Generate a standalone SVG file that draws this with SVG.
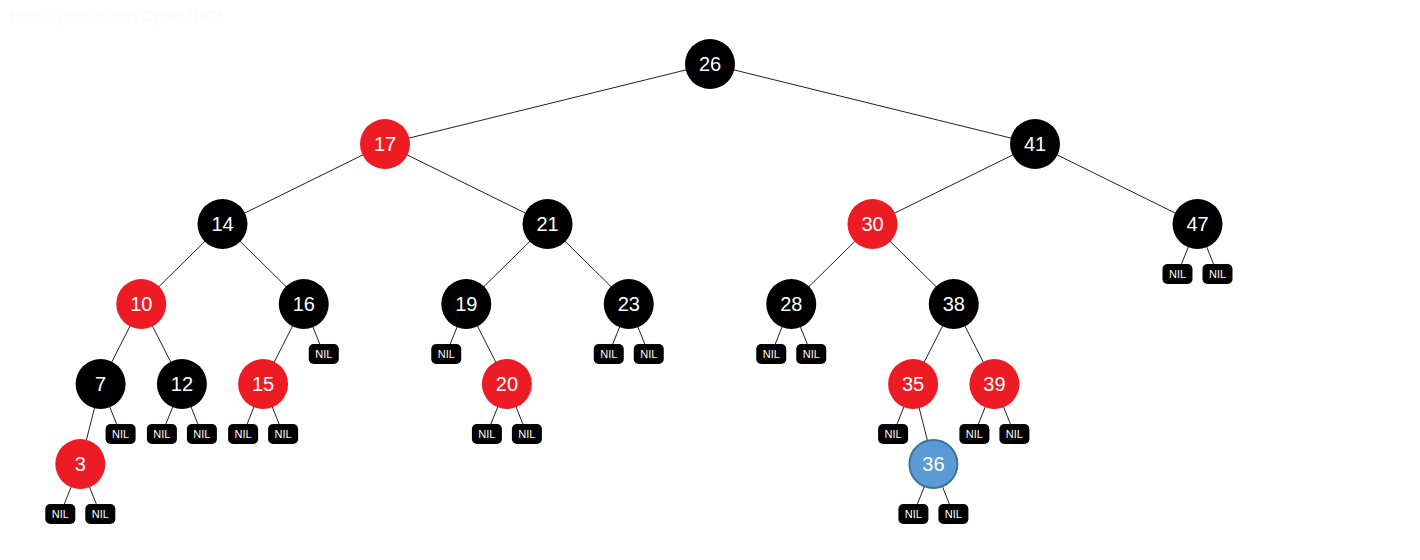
<svg xmlns="http://www.w3.org/2000/svg" width="1420" height="560" viewBox="0 0 1420 560">
<style>
.e{stroke:#222;stroke-width:1;fill:none}
.b{fill:#000}
.r{fill:#ed1c24}
.u{fill:#5b9bd5;stroke:#41719c;stroke-width:2}
.t{font-family:"Liberation Sans",Arial,sans-serif;font-size:20px;fill:#fff;text-anchor:middle;dominant-baseline:central}
.n{fill:#000}
.nt{font-family:"Liberation Sans",Arial,sans-serif;font-size:11px;fill:#fff;text-anchor:middle;dominant-baseline:central}
.w{font-family:"Liberation Sans",Arial,sans-serif;font-size:16px;fill:#fbfbfb}
</style>
<defs>
<g id="nil"><rect class="n" x="-15" y="-10" width="30" height="20" rx="5"/><text class="nt" x="0" y="0">NIL</text></g>
</defs>
<rect width="1420" height="560" fill="#fff"/>
<text class="w" x="10" y="22">https://github.com/CyberZHG/</text>
<g id="edges">
<line class="e" x1="710" y1="64" x2="385" y2="144"/>
<line class="e" x1="710" y1="64" x2="1035" y2="144"/>
<line class="e" x1="385" y1="144" x2="222.5" y2="224"/>
<line class="e" x1="385" y1="144" x2="547.5" y2="224"/>
<line class="e" x1="1035" y1="144" x2="872.5" y2="224"/>
<line class="e" x1="1035" y1="144" x2="1197.5" y2="224"/>
<line class="e" x1="222.5" y1="224" x2="141.25" y2="304"/>
<line class="e" x1="222.5" y1="224" x2="303.75" y2="304"/>
<line class="e" x1="547.5" y1="224" x2="466.25" y2="304"/>
<line class="e" x1="547.5" y1="224" x2="628.75" y2="304"/>
<line class="e" x1="872.5" y1="224" x2="791.25" y2="304"/>
<line class="e" x1="872.5" y1="224" x2="953.75" y2="304"/>
<line class="e" x1="1197.5" y1="224" x2="1177.5" y2="274"/>
<line class="e" x1="1197.5" y1="224" x2="1217.5" y2="274"/>
<line class="e" x1="141.25" y1="304" x2="100.6" y2="384"/>
<line class="e" x1="141.25" y1="304" x2="181.9" y2="384"/>
<line class="e" x1="303.75" y1="304" x2="263.1" y2="384"/>
<line class="e" x1="303.75" y1="304" x2="323.75" y2="354"/>
<line class="e" x1="466.25" y1="304" x2="446.25" y2="354"/>
<line class="e" x1="466.25" y1="304" x2="506.9" y2="384"/>
<line class="e" x1="628.75" y1="304" x2="608.75" y2="354"/>
<line class="e" x1="628.75" y1="304" x2="648.75" y2="354"/>
<line class="e" x1="791.25" y1="304" x2="771.25" y2="354"/>
<line class="e" x1="791.25" y1="304" x2="811.25" y2="354"/>
<line class="e" x1="953.75" y1="304" x2="913.1" y2="384"/>
<line class="e" x1="953.75" y1="304" x2="994.4" y2="384"/>
<line class="e" x1="100.6" y1="384" x2="80.3" y2="464"/>
<line class="e" x1="100.6" y1="384" x2="120.6" y2="434"/>
<line class="e" x1="181.9" y1="384" x2="161.9" y2="434"/>
<line class="e" x1="181.9" y1="384" x2="201.9" y2="434"/>
<line class="e" x1="263.1" y1="384" x2="243.1" y2="434"/>
<line class="e" x1="263.1" y1="384" x2="283.1" y2="434"/>
<line class="e" x1="506.9" y1="384" x2="486.9" y2="434"/>
<line class="e" x1="506.9" y1="384" x2="526.9" y2="434"/>
<line class="e" x1="913.1" y1="384" x2="893.1" y2="434"/>
<line class="e" x1="913.1" y1="384" x2="933.4" y2="464"/>
<line class="e" x1="994.4" y1="384" x2="974.4" y2="434"/>
<line class="e" x1="994.4" y1="384" x2="1014.4" y2="434"/>
<line class="e" x1="80.3" y1="464" x2="60.3" y2="514"/>
<line class="e" x1="80.3" y1="464" x2="100.3" y2="514"/>
<line class="e" x1="933.4" y1="464" x2="913.4" y2="514"/>
<line class="e" x1="933.4" y1="464" x2="953.4" y2="514"/>
</g>
<g id="n26"><circle class="b" cx="710" cy="64" r="25"/><text class="t" x="710" y="64">26</text></g>
<g id="n17"><circle class="r" cx="385" cy="144" r="25"/><text class="t" x="385" y="144">17</text></g>
<g id="n41"><circle class="b" cx="1035" cy="144" r="25"/><text class="t" x="1035" y="144">41</text></g>
<g id="n14"><circle class="b" cx="222.5" cy="224" r="25"/><text class="t" x="222.5" y="224">14</text></g>
<g id="n21"><circle class="b" cx="547.5" cy="224" r="25"/><text class="t" x="547.5" y="224">21</text></g>
<g id="n30"><circle class="r" cx="872.5" cy="224" r="25"/><text class="t" x="872.5" y="224">30</text></g>
<g id="n47"><circle class="b" cx="1197.5" cy="224" r="25"/><text class="t" x="1197.5" y="224">47</text></g>
<g id="n10"><circle class="r" cx="141.25" cy="304" r="25"/><text class="t" x="141.25" y="304">10</text></g>
<g id="n16"><circle class="b" cx="303.75" cy="304" r="25"/><text class="t" x="303.75" y="304">16</text></g>
<g id="n19"><circle class="b" cx="466.25" cy="304" r="25"/><text class="t" x="466.25" y="304">19</text></g>
<g id="n23"><circle class="b" cx="628.75" cy="304" r="25"/><text class="t" x="628.75" y="304">23</text></g>
<g id="n28"><circle class="b" cx="791.25" cy="304" r="25"/><text class="t" x="791.25" y="304">28</text></g>
<g id="n38"><circle class="b" cx="953.75" cy="304" r="25"/><text class="t" x="953.75" y="304">38</text></g>
<g id="n7"><circle class="b" cx="100.6" cy="384" r="25"/><text class="t" x="100.6" y="384">7</text></g>
<g id="n12"><circle class="b" cx="181.9" cy="384" r="25"/><text class="t" x="181.9" y="384">12</text></g>
<g id="n15"><circle class="r" cx="263.1" cy="384" r="25"/><text class="t" x="263.1" y="384">15</text></g>
<g id="n20"><circle class="r" cx="506.9" cy="384" r="25"/><text class="t" x="506.9" y="384">20</text></g>
<g id="n35"><circle class="r" cx="913.1" cy="384" r="25"/><text class="t" x="913.1" y="384">35</text></g>
<g id="n39"><circle class="r" cx="994.4" cy="384" r="25"/><text class="t" x="994.4" y="384">39</text></g>
<g id="n3"><circle class="r" cx="80.3" cy="464" r="25"/><text class="t" x="80.3" y="464">3</text></g>
<g id="n36"><circle class="u" cx="933.4" cy="464" r="24"/><text class="t" x="933.4" y="464">36</text></g>
<g id="nils">
<use href="#nil" x="1177.5" y="274"/>
<use href="#nil" x="1217.5" y="274"/>
<use href="#nil" x="323.75" y="354"/>
<use href="#nil" x="446.25" y="354"/>
<use href="#nil" x="608.75" y="354"/>
<use href="#nil" x="648.75" y="354"/>
<use href="#nil" x="771.25" y="354"/>
<use href="#nil" x="811.25" y="354"/>
<use href="#nil" x="120.6" y="434"/>
<use href="#nil" x="161.9" y="434"/>
<use href="#nil" x="201.9" y="434"/>
<use href="#nil" x="243.1" y="434"/>
<use href="#nil" x="283.1" y="434"/>
<use href="#nil" x="486.9" y="434"/>
<use href="#nil" x="526.9" y="434"/>
<use href="#nil" x="893.1" y="434"/>
<use href="#nil" x="974.4" y="434"/>
<use href="#nil" x="1014.4" y="434"/>
<use href="#nil" x="60.3" y="514"/>
<use href="#nil" x="100.3" y="514"/>
<use href="#nil" x="913.4" y="514"/>
<use href="#nil" x="953.4" y="514"/>
</g>
</svg>
